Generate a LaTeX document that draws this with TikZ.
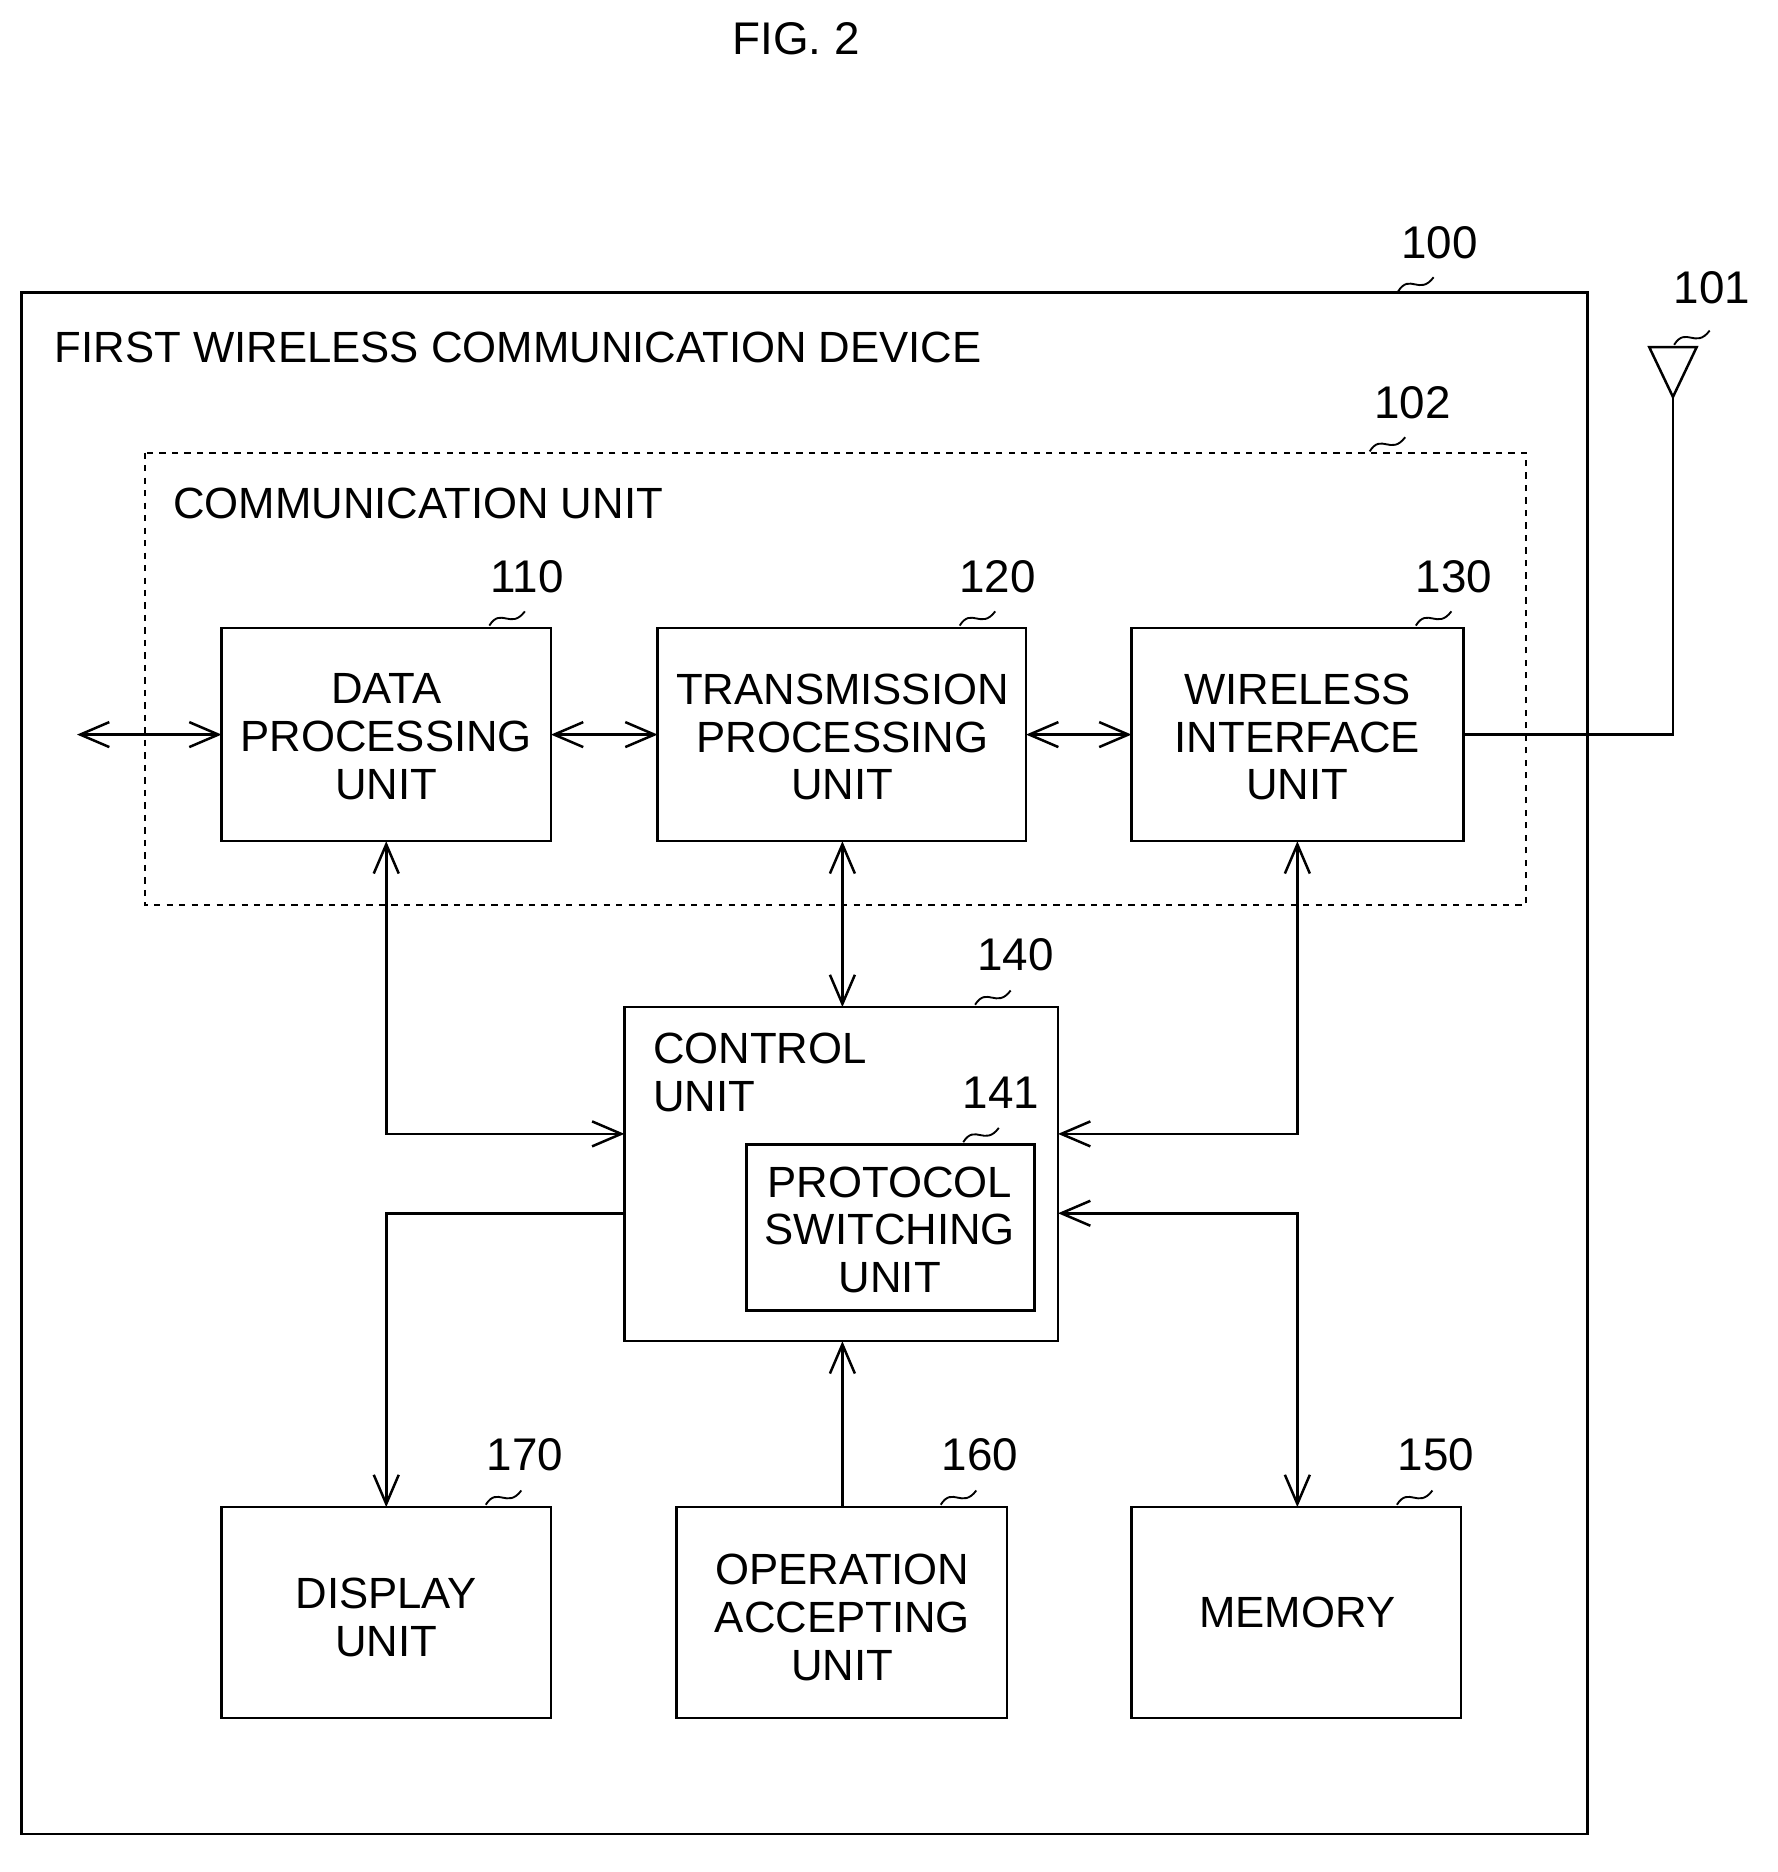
\documentclass[tikz,border=0pt]{standalone}
\usepackage{fontspec}
\setmainfont{Liberation Sans}
\usetikzlibrary{arrows.meta}
\begin{document}
\begin{tikzpicture}[x=0.02cm,y=-0.02cm,
  box/.style={draw,line width=1.2pt,inner sep=0pt},
  lbl/.style={font=\fontsize{21}{23}\selectfont,align=center},
  num/.style={font=\fontsize{22}{24}\selectfont},
  ar/.style={line width=1.2pt,-{Straight Barb[length=14pt,width=12pt,line width=1.2pt]}},
  ar2/.style={line width=1.2pt,{Straight Barb[length=14pt,width=12pt,line width=1.2pt]}-{Straight Barb[length=14pt,width=12pt,line width=1.2pt]}},
  ln/.style={line width=1.2pt}]
\useasboundingbox (0,0) rectangle (1500,1580);
\newcommand{\sq}[2]{\draw[line width=0.9pt] (#1,#2) .. controls (#1+10,#2-16) and (#1+18,#2+4) .. (#1+30,#2-12);}
\node[num] (fig) at (672,33) {FIG. 2};
\draw[box] (18,247) rectangle (1340,1548);
\node[lbl,anchor=west] (t1) at (40,293) {FIRST WIRELESS COMMUNICATION DEVICE};
\node[num] (n100) at (1215,205) {100}; \sq{1180}{246}
\draw[line width=1pt,dashed] (122,382) rectangle (1288,764);
\node[lbl,anchor=west] (t2) at (140,425) {COMMUNICATION UNIT};
\node[num] (n102) at (1192,340) {102}; \sq{1156}{381}
% antenna
\draw[ln] (1392,293) -- (1432,293) -- (1412,335) -- cycle;
\node[num] (n101) at (1445,243) {101}; \sq{1413}{291}
% boxes
\draw[box] (187,530) rectangle (465,710); \node[lbl] (b110) at (326,622) {DATA\\PROCESSING\\UNIT};
\draw[box] (555,530) rectangle (866,710); \node[lbl] (b120) at (711,622) {TRANSMISSION\\PROCESSING\\UNIT};
\draw[box] (955,530) rectangle (1235,710); \node[lbl] (b130) at (1095,622) {WIRELESS\\INTERFACE\\UNIT};
\node[num] (n110) at (445,487) {110}; \sq{413}{528}
\node[num] (n120) at (842,487) {120}; \sq{810}{528}
\node[num] (n130) at (1227,487) {130}; \sq{1195}{528}
\draw[box] (527,850) rectangle (893,1132);
\node[lbl,anchor=north west,align=left] (b140) at (545,866) {CONTROL\\UNIT};
\node[num] (n140) at (857,806) {140}; \sq{823}{848}
\draw[box] (630,966) rectangle (873,1106); \node[lbl] (b141) at (751,1038) {PROTOCOL\\SWITCHING\\UNIT};
\node[num] (n141) at (845,922) {141}; \sq{813}{964}
\draw[box] (187,1272) rectangle (465,1450); \node[lbl] (b170) at (326,1365) {DISPLAY\\UNIT};
\draw[box] (571,1272) rectangle (850,1450); \node[lbl] (b160) at (711,1365) {OPERATION\\ACCEPTING\\UNIT};
\draw[box] (955,1272) rectangle (1233,1450); \node[lbl] (b150) at (1095,1361) {MEMORY};
\node[num] (n170) at (443,1228) {170}; \sq{410}{1270}
\node[num] (n160) at (827,1228) {160}; \sq{794}{1270}
\node[num] (n150) at (1212,1228) {150}; \sq{1179}{1270}
% connectors
\draw[ar2] (65,620) -- (187,620);
\draw[ar2] (465,620) -- (555,620);
\draw[ar2] (866,620) -- (955,620);
\draw[ln] (1235,620) -- (1412,620) -- (1412,335);
\draw[ar2] (326,710) -- (326,957) -- (527,957);
\draw[ar2] (711,710) -- (711,850);
\draw[ar2] (1095,710) -- (1095,957) -- (893,957);
\draw[ar] (527,1024) -- (326,1024) -- (326,1272);
\draw[ar2] (1095,1272) -- (1095,1024) -- (893,1024);
\draw[ar] (711,1272) -- (711,1132);
\end{tikzpicture}
\end{document}
